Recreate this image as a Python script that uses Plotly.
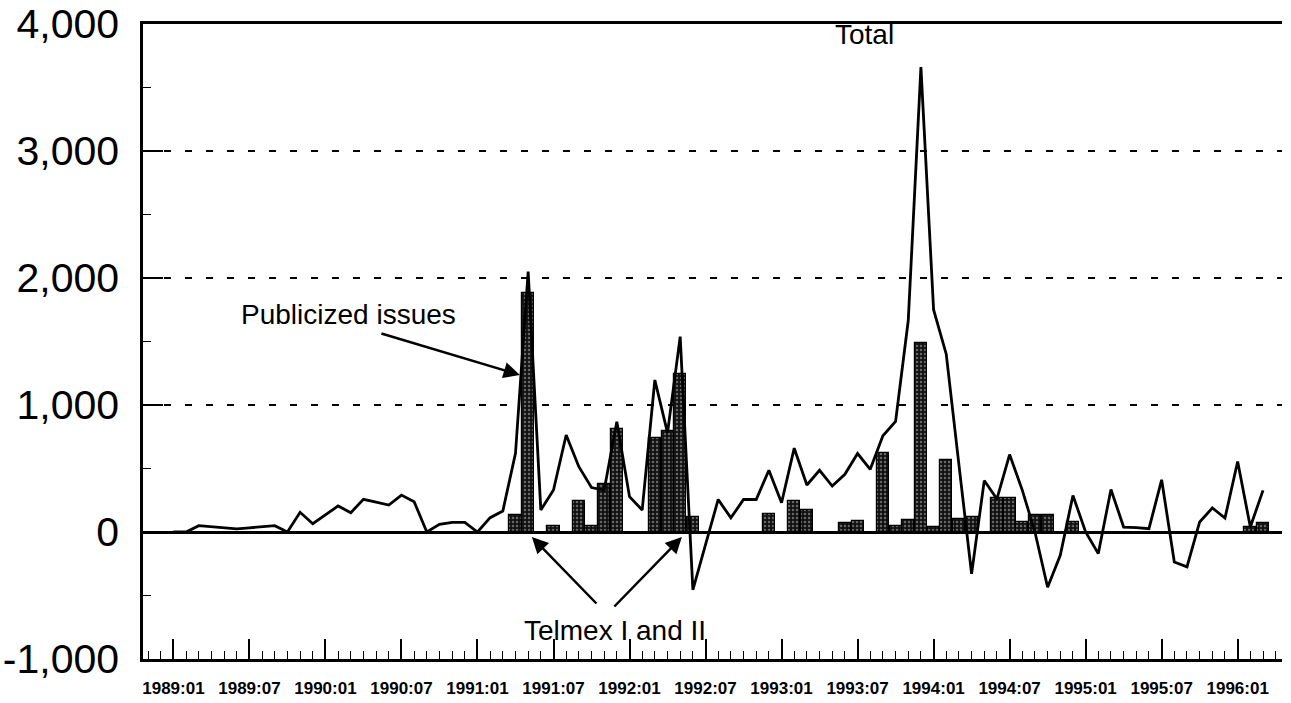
import plotly.graph_objects as go

# Monthly index: 0 = 1989:01 ... 86 = 1996:03
months = list(range(87))
total = [0, 0, 50, 42, 33, 24, 33, 41, 50, 0,
         155, 65, 135, 205, 152, 257, 235, 212, 291, 239,
         0, 60, 76, 76, 0, 113, 165, 620, 2050, 173,
         331, 764, 514, 350, 330, 869, 278, 173, 1197, 780,
         1538, -455, -100, 256, 111, 256, 256, 486, 230, 660,
         370, 486, 362, 454, 618, 494, 758, 870, 1665, 3660,
         1750, 1400, 530, -330, 405, 260, 610, 330, 0, -435,
         -183, 288, 0, -170, 335, 39, 35, 26, 411, -236,
         -275, 79, 189, 110, 555, 39, 328]

bar_months = [27, 28, 30, 32, 33, 34, 35, 38, 39, 40, 41,
              47, 49, 50, 53, 54, 56, 57, 58, 59, 60, 61, 62, 63,
              65, 66, 67, 68, 69, 71, 85, 86]
publicized = [135, 1880, 50, 245, 45, 376, 810, 744, 797, 1244, 121,
              140, 243, 177, 71, 90, 620, 45, 98, 1490, 37, 565, 100, 120,
              265, 265, 80, 136, 136, 79, 39, 73]

tick_months = [0, 6, 12, 18, 24, 30, 36, 42, 48, 54, 60, 66, 72, 78, 84]
tick_labels = ["1989:01", "1989:07", "1990:01", "1990:07", "1991:01", "1991:07",
               "1992:01", "1992:07", "1993:01", "1993:07", "1994:01", "1994:07",
               "1995:01", "1995:07", "1996:01"]
y_ticks = [-1000, 0, 1000, 2000, 3000, 4000]
y_labels = ["-1,000", "0", "1,000", "2,000", "3,000", "4,000"]

FONT = "Liberation Sans, Arial, Helvetica, sans-serif"

fig = go.Figure()
fig.add_trace(go.Bar(
    x=bar_months, y=publicized, width=0.95,
    marker=dict(color="#111111", line=dict(color="black", width=1.2),
                pattern=dict(shape=".", fgcolor="#bbbbbb", bgcolor="#111111",
                             size=4, solidity=0.3)),
    showlegend=False))
fig.add_trace(go.Scatter(
    x=months, y=total, mode="lines",
    line=dict(color="black", width=2.8), showlegend=False))

fig.update_layout(
    width=1291, height=703,
    margin=dict(l=143, r=9, t=24, b=44, autoexpand=False),
    paper_bgcolor="white", plot_bgcolor="white",
    font=dict(family=FONT, color="black"),
    bargap=0,
)
fig.update_xaxes(
    range=[-2.4, 87.5], tickmode="array", tickvals=tick_months, ticktext=tick_labels,
    ticks="inside", ticklen=20, tickwidth=1.5, tickcolor="black",
    minor=dict(dtick=1, tick0=0, ticks="inside", ticklen=8, tickwidth=1.2, tickcolor="black"),
    showline=True, linecolor="black", linewidth=2.5, mirror=True,
    showgrid=False, zeroline=False, automargin=False, ticklabeloverflow="allow",
    tickfont=dict(size=17, family="Liberation Sans, Arial", color="black", weight="bold"),
    ticklabelstandoff=12,
)
fig.update_yaxes(
    range=[-1000, 4000], tickmode="array", tickvals=y_ticks, ticktext=y_labels,
    ticks="inside", ticklen=20, tickwidth=1.5, tickcolor="black",
    minor=dict(dtick=500, tick0=0, ticks="inside", ticklen=8, tickwidth=1.2, tickcolor="black"),
    showline=True, linecolor="black", linewidth=2.5,
    showgrid=True, gridcolor="black", gridwidth=1.8, griddash="7px,14px",
    zeroline=True, zerolinecolor="black", zerolinewidth=2.5, automargin=False,
    ticklabeloverflow="allow",
    tickfont=dict(size=41, family=FONT, color="black"),
    ticklabelstandoff=13,
)

def px_to_data(xp, yp):
    return (xp - 173.5) / 12.67, (532 - yp) / 0.127

annots = []
for text, (xp, yp) in [("Total", (865, 34)), ("Publicized issues", (349, 314)),
                       ("Telmex I and II", (615, 630))]:
    xd, yd = px_to_data(xp, yp)
    annots.append(dict(x=xd, y=yd, xref="x", yref="y", text=text, showarrow=False,
                       font=dict(size=28, family=FONT, color="black")))
for (tx, ty), (hx, hy) in [((380, 333), (520, 375)),
                           ((598, 605), (532, 537)),
                           ((613, 608), (682, 537))]:
    txd, tyd = px_to_data(tx, ty)
    hxd, hyd = px_to_data(hx, hy)
    annots.append(dict(x=hxd, y=hyd, xref="x", yref="y", ax=txd, ay=tyd,
                       axref="x", ayref="y", text="", showarrow=True,
                       arrowhead=2, arrowsize=1.3, arrowwidth=2.5, arrowcolor="black"))
fig.update_layout(annotations=annots)

fig.write_html("out.html", config={"displayModeBar": False},
               post_script="document.body.style.margin='0';document.body.style.overflow='hidden';")
